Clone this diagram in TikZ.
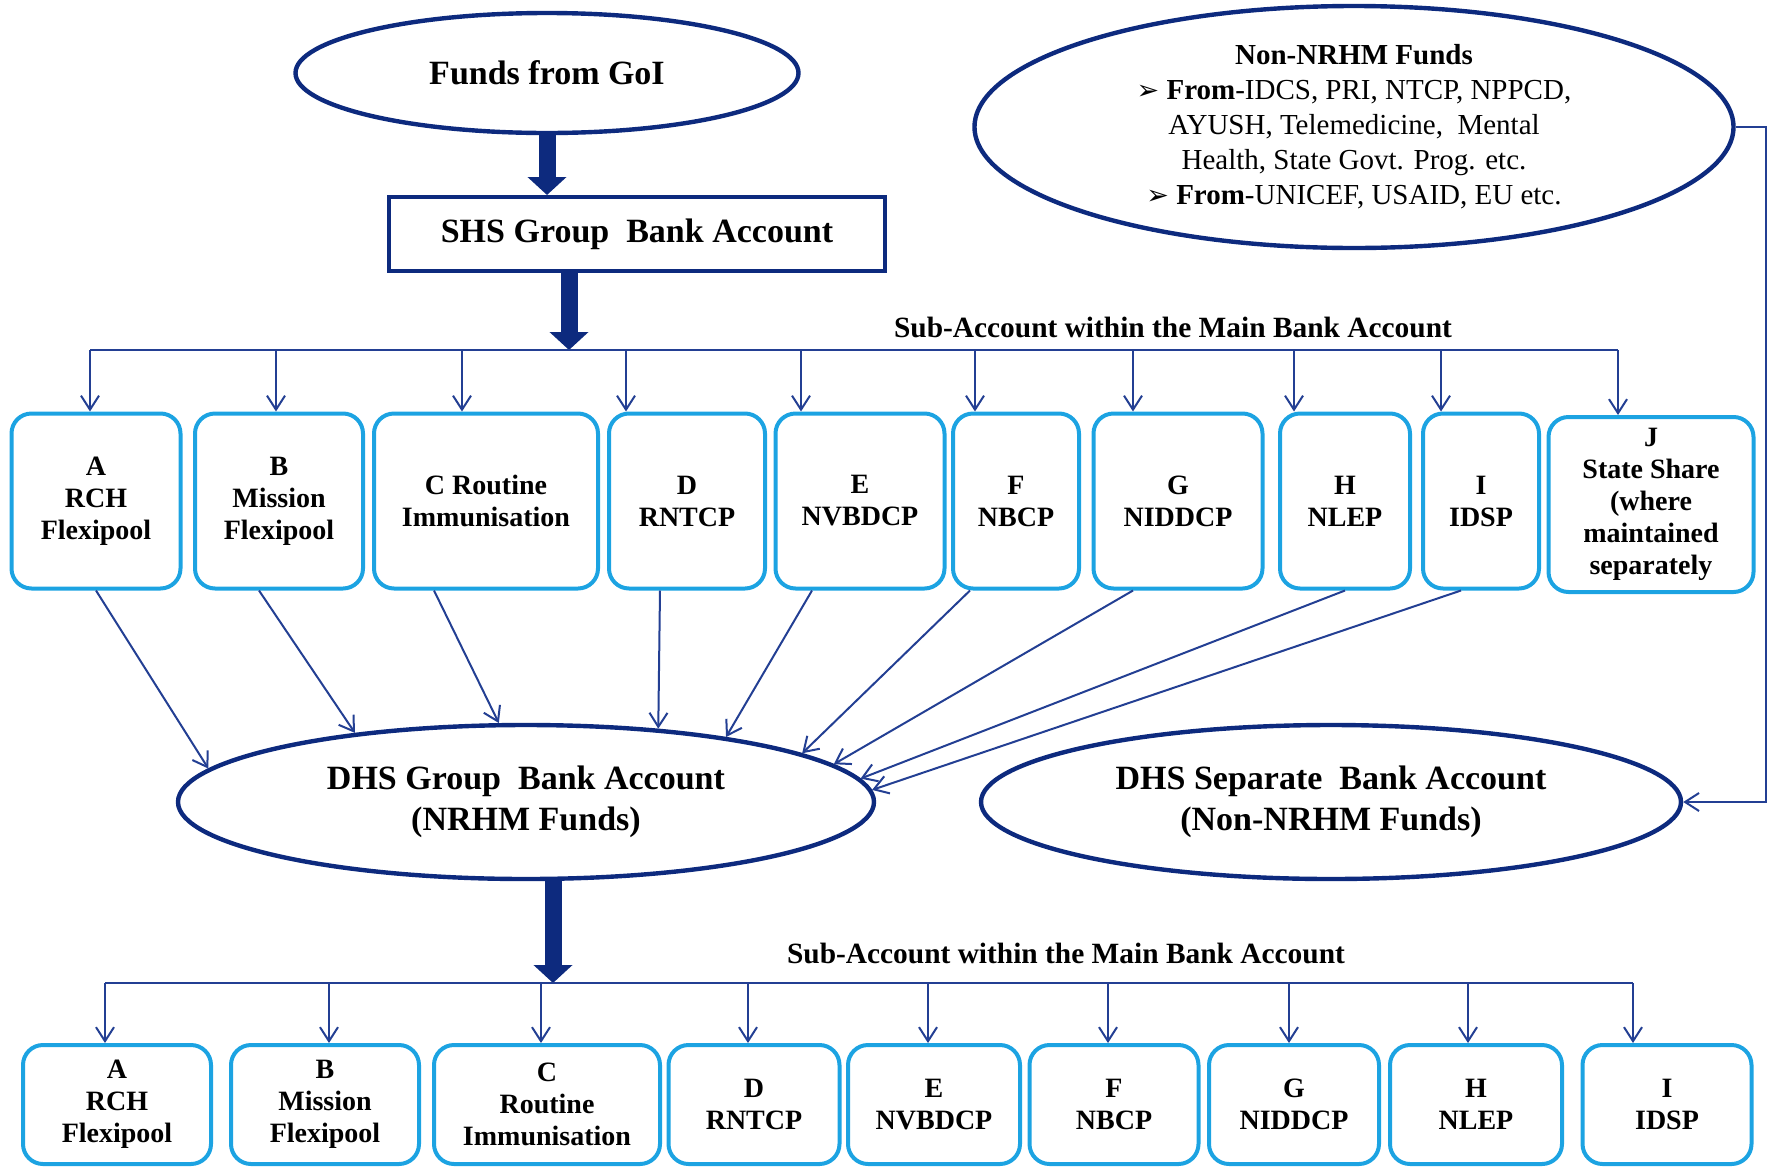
\documentclass[tikz,border=0pt]{standalone}
\usepackage{fontspec}
\setmainfont{Liberation Serif}
\newfontfamily\dejavu{DejaVu Sans}
\usetikzlibrary{arrows.meta,shapes.geometric}

\definecolor{navy}{HTML}{0D2A7E}
\definecolor{linkblue}{HTML}{233F93}
\definecolor{boxcyan}{HTML}{1CA3E2}

\tikzset{
  fund/.style={ellipse, draw=navy, line width=2.2pt, inner sep=0pt, align=center,
    font=\bfseries\fontsize{17}{20.3}\selectfont},
  bank/.style={rectangle, draw=navy, line width=2pt, inner sep=0pt,
    font=\bfseries\fontsize{17}{20.3}\selectfont},
  subacc/.style={rectangle, rounded corners=10pt, draw=boxcyan, line width=2pt,
    inner sep=2pt, align=center, font=\bfseries\fontsize{14}{16}\selectfont},
  bigflow/.style={draw=navy, line width=8.5pt, -{Triangle[length=9pt,width=19pt]}},
  flow/.style={draw=linkblue, line width=1pt, -{Straight Barb[length=7pt,width=9pt]}},
  bus/.style={draw=linkblue, line width=1pt},
  subtitle/.style={inner sep=0pt, font=\bfseries\fontsize{14.7}{17}\selectfont}
}
\newcommand\fromtick{{\dejavu\bfseries\fontsize{13.5}{13.5}\selectfont ➢}}

\begin{document}
\begin{tikzpicture}[x=0.5pt, y=-0.5pt]
\useasboundingbox (0,0) rectangle (1768,1168);

\node[fund, minimum width=251.5pt, minimum height=60pt] (goi) at (547,73) {Funds from GoI};
\node[bank, minimum width=248pt, minimum height=37pt] (shs) at (637,234) {SHS Group\ \ Bank Account};
\node[fund, minimum width=379.5pt, minimum height=121pt, font=\rmfamily\fontsize{14.5}{17.5}\selectfont]
  (nonnrhm) at (1354,127)
  {\textbf{Non-NRHM Funds}\\
   \fromtick\ \textbf{From}-IDCS, PRI, NTCP, NPPCD,\\
   AYUSH, Telemedicine,\ \ Mental\\
   Health, State Govt. Prog. etc.\\
   \fromtick\ \textbf{From}-UNICEF, USAID, EU etc.};

% state level sub-accounts
\foreach \n/\x/\w/\txt in {A/96/169/{A\\RCH\\Flexipool}, B/279/168/{B\\Mission\\Flexipool},
    C/486/224/{C Routine\\Immunisation}, D/687/156/{D\\RNTCP}, E/860/169/{E\\NVBDCP},
    F/1016/126/{F\\NBCP}, G/1178/169/{G\\NIDDCP}, H/1345/130/{H\\NLEP}, I/1481/116/{I\\IDSP}}
  \node[subacc, minimum width=\w*0.5pt, minimum height=87.5pt] (t\n) at (\x,501) {\txt};
\node[subacc, minimum width=102.5pt, minimum height=87.5pt] (tJ) at (1651,504.5)
  {J\\State Share\\(where\\maintained\\separately};

\node[fund, minimum width=348pt, minimum height=77pt] (dhs) at (526,802)
  {DHS Group\ \ Bank Account\\(NRHM Funds)};
\node[fund, minimum width=350pt, minimum height=77pt] (sep) at (1331,802)
  {DHS Separate\ \ Bank Account\\(Non-NRHM Funds)};

% district level sub-accounts
\foreach \n/\x/\w/\txt in {A/117/188/{A\\RCH\\Flexipool}, B/325/188/{B\\Mission\\Flexipool},
    C/547/226/{C\\Routine\\Immunisation}, D/754/171/{D\\RNTCP}, E/934/172/{E\\NVBDCP},
    F/1114/169/{F\\NBCP}, G/1294/170/{G\\NIDDCP}, H/1476/172/{H\\NLEP}, I/1667/169/{I\\IDSP}}
  \node[subacc, minimum width=\w*0.5pt, minimum height=59.5pt] (b\n) at (\x,1104.5) {\txt};

\node[subtitle] (sub1) at (1173,327) {Sub-Account within the Main Bank Account};
\node[subtitle] (sub2) at (1066,953) {Sub-Account within the Main Bank Account};

\draw[bigflow] (goi.south) -- (goi.south |- shs.north);
\draw[bigflow] (569,0 |- shs.south) -- (569,350);
\draw[bus] (90,350) -- (1618,350);
\foreach \x/\n in {90/A,276/B,462/C,626/D,801/E,975/F,1133/G,1294/H,1441/I,1618/J}
  \draw[flow] (\x,350) -- (\x,350 |- t\n.north);

\foreach \n/\d/\a in {A/0/174, B/-20/158, C/-52/109, D/-27/29, E/-48/18,
    F/-46/10, G/-45/7, H/0/4, I/-20/2}
  \draw[flow] ([xshift=\d*0.5pt]t\n.south) -- (dhs.\a);

\draw[flow] (nonnrhm.east) -- ++(30,0) |- (sep.east);

\draw[bigflow] (553,0 |- dhs.south) -- (553,983);
\draw[bus] (105,983) -- (1633,983);
\foreach \x/\n in {105/A,329/B,541/C,748/D,928/E,1108/F,1289/G,1468/H,1633/I}
  \draw[flow] (\x,983) -- (\x,983 |- b\n.north);

\end{tikzpicture}
\end{document}
